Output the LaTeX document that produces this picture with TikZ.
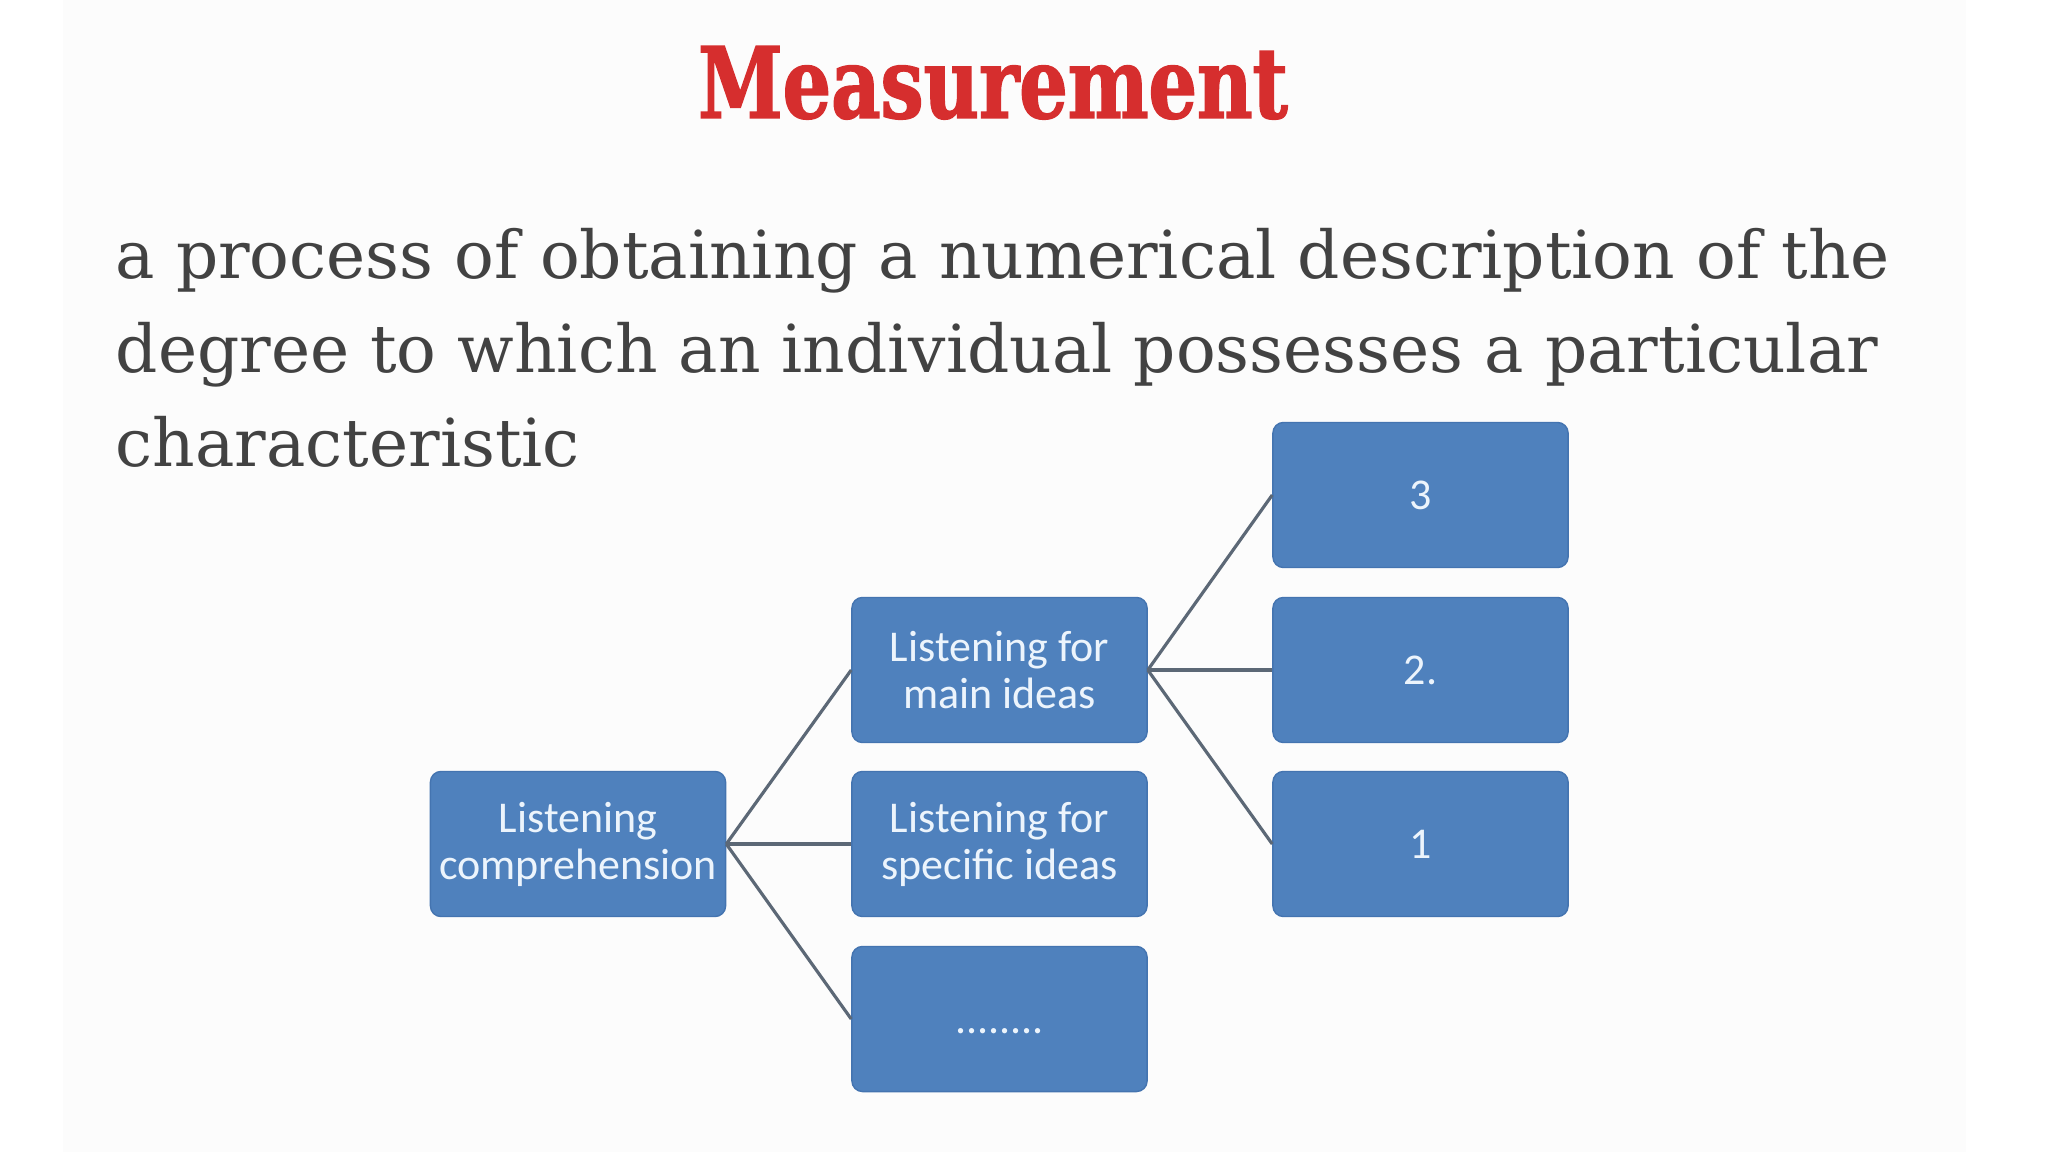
\documentclass[tikz,border=0pt]{standalone}
\usepackage{fontspec}
\setmainfont{DejaVu Serif}
\newfontfamily\titlefont{DejaVu Serif}[FakeStretch=0.775,FakeBold=1.5]
\newfontfamily\boxfont{Carlito}
\usetikzlibrary{positioning}
\definecolor{titlered}{RGB}{214,46,46}
\definecolor{bodygray}{RGB}{66,66,66}
\definecolor{boxblue}{RGB}{79,129,189}
\definecolor{boxedge}{RGB}{68,116,176}
\definecolor{boxtext}{RGB}{236,244,252}
\definecolor{linkgray}{RGB}{92,104,118}
\definecolor{slidebg}{RGB}{252,252,252}

\begin{document}
\begin{tikzpicture}[x=0.01cm,y=-0.01cm,
  box/.style={draw=boxedge,fill=boxblue,rounded corners=3pt,minimum width=2.95cm,minimum height=1.45cm,
    align=center,text=boxtext,font=\boxfont\fontsize{12.5}{13.4}\selectfont,inner sep=1pt},
  link/.style={draw=linkgray,line width=0.9pt}]
\useasboundingbox (0,0) rectangle (2048,1152);
\fill[white] (0,0) rectangle (2048,1152);
\fill[slidebg] (63,0) rectangle (1966,1152);
\node[anchor=base,text=titlered,font=\titlefont\bfseries\fontsize{28}{32}\selectfont] (title) at (993,118) {Measurement};
\node[anchor=north west,align=left,text=bodygray,inner sep=0pt,font=\fontsize{18.8}{26.7}\selectfont] (def) at (115,228)
  {a process of obtaining a numerical description of the\\degree to which an individual possesses a particular\\characteristic};
\node[box] (lc) at (578,844) {Listening\\comprehension};
\node[box] (mi) at (999.5,670) {Listening for\\main ideas};
\node[box] (sp) at (999.5,844) {Listening for\\specific ideas};
\node[box,text height=8pt,text depth=0pt] (etc) at (999.5,1019) {........};
\node[box] (s3) at (1420.5,495) {3};
\node[box] (s2) at (1420.5,670) {2.};
\node[box] (s1) at (1420.5,844) {1};
\draw[link] (lc.east) -- (mi.west);
\draw[link] (lc.east) -- (sp.west);
\draw[link] (lc.east) -- (etc.west);
\draw[link] (mi.east) -- (s3.west);
\draw[link] (mi.east) -- (s2.west);
\draw[link] (mi.east) -- (s1.west);
\end{tikzpicture}
\end{document}
